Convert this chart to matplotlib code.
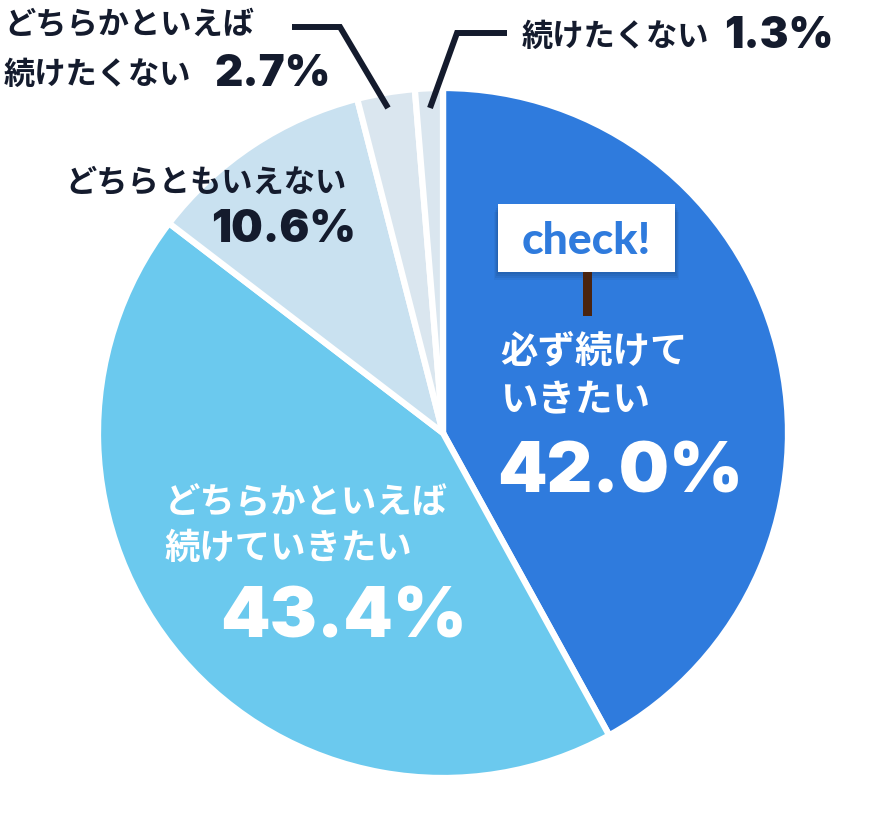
import matplotlib
matplotlib.use("Agg")
import matplotlib.pyplot as plt
from matplotlib.patches import Rectangle

# ---- data ----
categories = ["必ず続けていきたい", "どちらかといえば続けていきたい", "どちらともいえない",
              "どちらかといえば続けたくない", "続けたくない"]
values = [42.0, 43.4, 10.6, 2.7, 1.3]
value_labels = ["42.0%", "43.4%", "10.6%", "2.7%", "1.3%"]
colors = ["#2F7BDD", "#6BC9EE", "#C9E1F0", "#DAE6EF", "#DAE6EF"]

W, H = 883, 823
DARK = "#141B2D"
JP = ["Noto Sans CJK JP", "DejaVu Sans"]
NUM = ["Inter", "Lato", "DejaVu Sans"]
LATO = ["Lato", "DejaVu Sans"]

fig = plt.figure(figsize=(W / 100, H / 100), dpi=100)
ax = fig.add_axes([0, 0, 1, 1])

def Y(y):
    return H - y

ax.pie(values, colors=colors, startangle=90, counterclock=False,
       center=(443, Y(433)), radius=345,
       wedgeprops=dict(edgecolor="white", linewidth=4.5))
ax.set_xlim(0, W)
ax.set_ylim(0, H)
ax.set_aspect("equal")
ax.axis("off")

# ---- labels inside slices ----
ax.text(500, Y(351), "必ず続けて", family=JP, weight="bold", fontsize=27,
        color="white", ha="left", va="center")
ax.text(500, Y(400), "いきたい", family=JP, weight="bold", fontsize=27,
        color="white", ha="left", va="center")
ax.text(497, Y(492), value_labels[0], family=NUM, weight="black", fontsize=51,
        color="white", ha="left", va="baseline")

ax.text(165, Y(503), "どちらかといえば", family=JP, weight="bold", fontsize=25.5,
        color="white", ha="left", va="center")
ax.text(165, Y(548), "続けていきたい", family=JP, weight="bold", fontsize=25.5,
        color="white", ha="left", va="center")
ax.text(220, Y(638), value_labels[1], family=NUM, weight="black", fontsize=51,
        color="white", ha="left", va="baseline")

# ---- outside labels ----
ax.text(65, Y(183), "どちらともいえない", family=JP, weight="bold", fontsize=22.5,
        color=DARK, ha="left", va="center")
ax.text(356, Y(242), value_labels[2], family=NUM, weight="black", fontsize=32,
        color=DARK, ha="right", va="baseline")

ax.text(4, Y(25), "どちらかといえば", family=JP, weight="bold", fontsize=22.5,
        color=DARK, ha="left", va="center")
ax.text(4, Y(75), "続けたくない", family=JP, weight="bold", fontsize=22.5,
        color=DARK, ha="left", va="center")
ax.text(214, Y(86), value_labels[3], family=NUM, weight="black", fontsize=31.5,
        color=DARK, ha="left", va="baseline")

ax.text(522, Y(37), "続けたくない", family=JP, weight="bold", fontsize=22.5,
        color=DARK, ha="left", va="center")
ax.text(724, Y(48), value_labels[4], family=NUM, weight="black", fontsize=31,
        color=DARK, ha="left", va="baseline")

# ---- leader lines ----
ax.plot([292, 340, 388], [Y(27), Y(27), Y(108)], color=DARK, lw=4.3,
        solid_capstyle="butt", solid_joinstyle="miter")
ax.plot([507, 457, 430], [Y(33), Y(33), Y(108)], color=DARK, lw=4.3,
        solid_capstyle="butt", solid_joinstyle="miter")

# ---- check! sign ----
for i, a in enumerate([0.05, 0.05, 0.05, 0.04]):
    d = 2 + i * 2
    ax.add_patch(Rectangle((498 - d / 2, Y(272 + d)), 177 + d, 68, facecolor="black",
                           alpha=a, edgecolor="none", zorder=3))
ax.add_patch(Rectangle((583, Y(316)), 9, 44, facecolor="#4A2410", edgecolor="none", zorder=4))
ax.add_patch(Rectangle((498, Y(272)), 177, 68, facecolor="white", edgecolor="none", zorder=5))
ax.text(586, Y(254), "check!", family=LATO, weight="black", fontsize=32,
        color="#2F7BDD", ha="center", va="baseline", zorder=6)

fig.savefig("out.png", dpi=100)
